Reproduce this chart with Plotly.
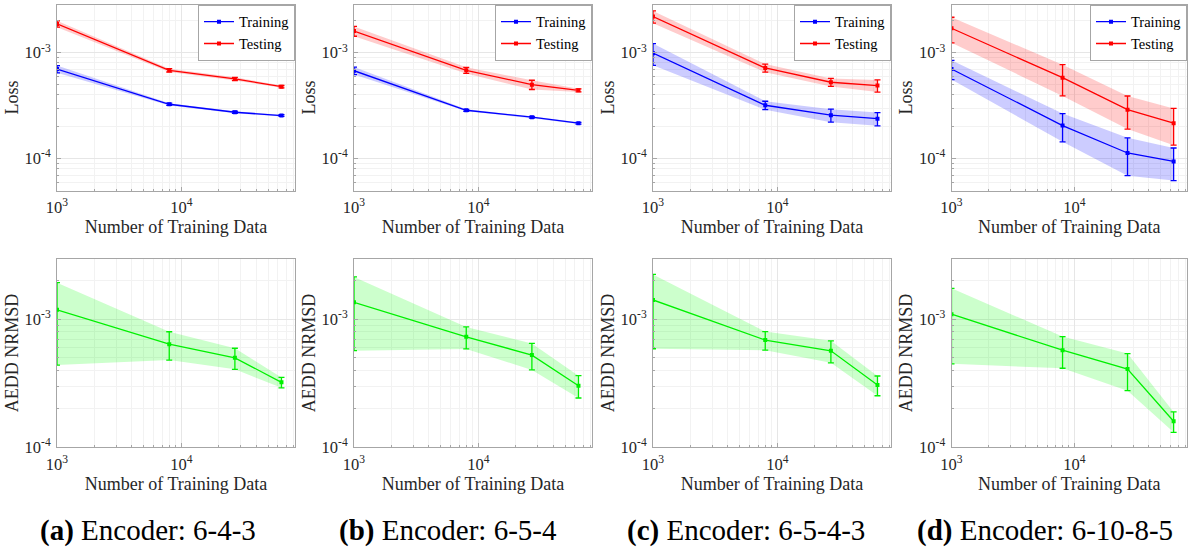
import plotly.graph_objects as go

# ---------------- data ----------------
n_train = [1000, 8000, 27000, 64000]

panels = ["(a)", "(b)", "(c)", "(d)"]
encoders = ["Encoder: 6-4-3", "Encoder: 6-5-4", "Encoder: 6-5-4-3", "Encoder: 6-10-8-5"]

train_loss_a = [7.0e-4, 3.26e-4, 2.74e-4, 2.55e-4]
train_std_a = [5.5e-5, 8e-6, 6e-6, 5e-6]
test_loss_a = [1.87e-3, 6.82e-4, 5.65e-4, 4.78e-4]
test_std_a = [1.3e-4, 2.5e-5, 2e-5, 1.2e-5]

train_loss_b = [6.76e-4, 2.86e-4, 2.46e-4, 2.16e-4]
train_std_b = [5.5e-5, 6e-6, 5e-6, 4e-6]
test_loss_b = [1.60e-3, 6.82e-4, 4.99e-4, 4.41e-4]
test_std_b = [1.7e-4, 4.5e-5, 5e-5, 1.5e-5]

train_loss_c = [9.9e-4, 3.19e-4, 2.57e-4, 2.38e-4]
train_std_c = [2.3e-4, 2.9e-5, 3.6e-5, 3.4e-5]
test_loss_c = [2.19e-3, 7.17e-4, 5.26e-4, 4.89e-4]
test_std_c = [2.9e-4, 6.3e-5, 4.6e-5, 6.4e-5]

train_loss_d = [7.02e-4, 2.05e-4, 1.13e-4, 9.4e-5]
train_std_d = [1.45e-4, 6.1e-5, 4.4e-5, 3.2e-5]
test_loss_d = [1.70e-3, 5.81e-4, 2.90e-4, 2.16e-4]
test_std_d = [4.6e-4, 1.9e-4, 1.0e-4, 8.2e-5]

aedd_a = [1.19e-3, 6.41e-4, 5.01e-4, 3.22e-4]
aedd_std_a = [7.5e-4, 1.6e-4, 9.4e-5, 3.0e-5]
aedd_b = [1.36e-3, 7.31e-4, 5.26e-4, 3.03e-4]
aedd_std_b = [7.9e-4, 1.43e-4, 1.23e-4, 6.0e-5]
aedd_c = [1.42e-3, 6.89e-4, 5.69e-4, 3.07e-4]
aedd_std_c = [8.3e-4, 1.14e-4, 1.11e-4, 5.4e-5]
aedd_d = [1.10e-3, 5.75e-4, 4.09e-4, 1.60e-4]
aedd_std_d = [6.5e-4, 1.6e-4, 1.32e-4, 2.9e-5]

x_tickvals = [1e3, 1e4]
x_ticktext = ["10<sup>3</sup>", "10<sup>4</sup>"]
y_tickvals = [1e-4, 1e-3]
y_ticktext = ["10<sup>-4</sup>", "10<sup>-3</sup>"]
x_minor = [2000, 3000, 4000, 5000, 6000, 7000, 8000, 9000,
           20000, 30000, 40000, 50000, 60000, 70000, 80000]
y_minor_top = [6e-5, 7e-5, 8e-5, 9e-5, 2e-4, 3e-4, 4e-4, 5e-4, 6e-4, 7e-4, 8e-4, 9e-4, 2e-3]
y_minor_bot = [2e-4, 3e-4, 4e-4, 5e-4, 6e-4, 7e-4, 8e-4, 9e-4, 2e-3]

train_loss = [train_loss_a, train_loss_b, train_loss_c, train_loss_d]
train_std = [train_std_a, train_std_b, train_std_c, train_std_d]
test_loss = [test_loss_a, test_loss_b, test_loss_c, test_loss_d]
test_std = [test_std_a, test_std_b, test_std_c, test_std_d]
aedd = [aedd_a, aedd_b, aedd_c, aedd_d]
aedd_std = [aedd_std_a, aedd_std_b, aedd_std_c, aedd_std_d]

# ---------------- layout geometry ----------------
W, H = 1188, 548
col_px = [(57, 295), (354, 592), (653, 891), (951.5, 1187)]
top_px = (4.7, 190.5)
bot_px = (258.7, 447.3)
caption_cx = [148, 448, 746, 1045]
caption_cy = 530

FONT = "Liberation Serif"
BLUE = "rgb(0,0,255)"
RED = "rgb(255,0,0)"
GREEN = "rgb(0,240,0)"
BLUE_F = "rgba(0,0,255,0.2)"
RED_F = "rgba(255,0,0,0.2)"
GREEN_F = "rgba(0,255,0,0.2)"


def xd(p):
    return [p[0] / W, p[1] / W]


def yd(p):
    return [1 - p[1] / H, 1 - p[0] / H]


fig = go.Figure()


def add_series(xa, ya, x, y, s, color, fcolor, name=None, legend=None):
    up = [a + b for a, b in zip(y, s)]
    lo = [a - b for a, b in zip(y, s)]
    fig.add_trace(go.Scatter(
        x=list(x) + list(x)[::-1], y=up + lo[::-1], fill="toself",
        fillcolor=fcolor, line=dict(width=0), mode="lines",
        hoverinfo="skip", showlegend=False, xaxis=xa, yaxis=ya))
    if name is not None:
        kw = dict(name=name, legend=legend, showlegend=True)
    else:
        kw = dict(showlegend=False)
    fig.add_trace(go.Scatter(
        x=x, y=y, mode="lines+markers",
        line=dict(color=color, width=1.3),
        marker=dict(color=color, size=4, symbol="square"),
        error_y=dict(type="data", array=s, visible=True, color=color,
                     thickness=1.3, width=3),
        xaxis=xa, yaxis=ya, **kw))


axis_common = dict(
    type="log", showline=True, mirror=True, linecolor="#a6a6a6", linewidth=1,
    ticks="inside", ticklen=4, tickcolor="#a6a6a6",
    showgrid=True, gridcolor="#e6e6e6", gridwidth=1,
    tickfont=dict(family=FONT, size=16.5, color="#262626"),
    zeroline=False, automargin=False,
)

layout = dict(
    width=W, height=H, margin=dict(l=0, r=0, t=0, b=0, pad=0, autoexpand=False),
    paper_bgcolor="white", plot_bgcolor="white", showlegend=True,
    font=dict(family=FONT, color="#262626"),
)

annotations = []

for i in range(4):
    for row in range(2):
        k = 2 * i + row + 1
        xname = "xaxis" if k == 1 else f"xaxis{k}"
        yname = "yaxis" if k == 1 else f"yaxis{k}"
        xa = "x" if k == 1 else f"x{k}"
        ya = "y" if k == 1 else f"y{k}"
        ypx = top_px if row == 0 else bot_px
        layout[xname] = dict(
            axis_common, domain=xd(col_px[i]), anchor=ya,
            range=[3, 4.915], tickmode="array", tickvals=x_tickvals,
            ticktext=x_ticktext, ticklabelstandoff=2,
            minor=dict(tickmode="array", tickvals=x_minor, showgrid=True,
                       gridcolor="#f2f2f2", ticks="inside", ticklen=2,
                       tickcolor="#a6a6a6"),
            title=dict(text="Number of Training Data",
                       font=dict(family=FONT, size=18, color="#262626"),
                       standoff=4),
        )
        if row == 0:
            yr = [-4.301, -2.547]
            ymin = y_minor_top
            ytitle = "Loss"
        else:
            yr = [-4.0, -2.525]
            ymin = y_minor_bot
            ytitle = "AEDD NRMSD"
        layout[yname] = dict(
            axis_common, domain=yd(ypx), anchor=xa, range=yr,
            tickmode="array", tickvals=y_tickvals, ticktext=y_ticktext,
            ticklabelstandoff=2,
            minor=dict(tickmode="array", tickvals=ymin, showgrid=True,
                       gridcolor="#f2f2f2", ticks="inside", ticklen=2,
                       tickcolor="#a6a6a6"),
            title=dict(text=ytitle,
                       font=dict(family=FONT, size=18, color="#262626"),
                       standoff=1),
        )
        if row == 0:
            lg = "legend" if i == 0 else f"legend{i + 1}"
            add_series(xa, ya, n_train, train_loss[i], train_std[i], BLUE, BLUE_F,
                       name="Training", legend=lg)
            add_series(xa, ya, n_train, test_loss[i], test_std[i], RED, RED_F,
                       name="Testing", legend=lg)
            layout[lg] = dict(
                x=col_px[i][1] / W, y=1 - top_px[0] / H,
                xanchor="right", yanchor="top",
                bgcolor="white", bordercolor="#a6a6a6", borderwidth=1,
                font=dict(family=FONT, size=14.5, color="#000000"),
                itemwidth=30, tracegroupgap=0,
                traceorder="normal",
            )
        else:
            add_series(xa, ya, n_train, aedd[i], aedd_std[i], GREEN, GREEN_F)

    annotations.append(dict(
        x=caption_cx[i] / W, y=1 - caption_cy / H, xref="paper", yref="paper",
        text=f"<b>{panels[i]}</b> {encoders[i]}", showarrow=False,
        font=dict(family=FONT, size=29, color="black"),
        xanchor="center", yanchor="middle"))

layout["annotations"] = annotations
fig.update_layout(**layout)
fig.write_html(
    "out.html",
    config={"displayModeBar": False},
    post_script="document.body.style.margin='0';document.body.style.overflow='hidden';",
)
